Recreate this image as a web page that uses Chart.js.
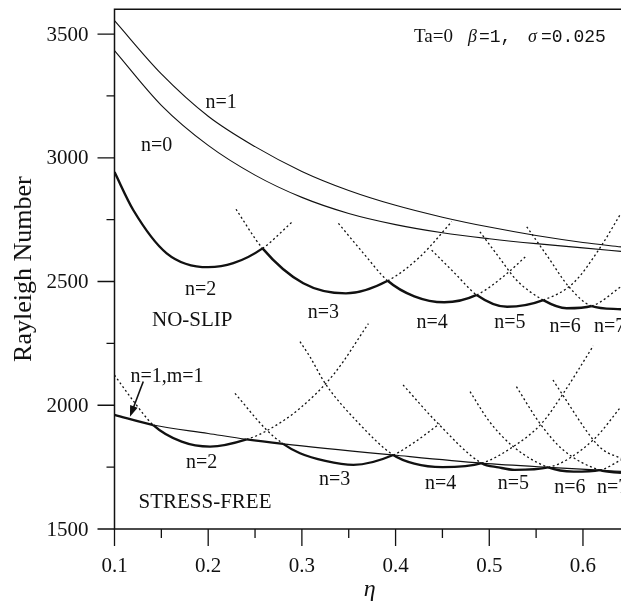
<!DOCTYPE html>
<html>
<head>
<meta charset="utf-8">
<script src="https://cdn.jsdelivr.net/npm/chart.js@4/dist/chart.umd.min.js"></script>
<style>
html, body { margin: 0; padding: 0; background: #fff; }
#myChart { display: block; }
</style>
</head>
<body>
<canvas id="myChart" width="621" height="608"></canvas>
<script>
// tick values and labels
const xTicks = [0.1, 0.2, 0.3, 0.4, 0.5, 0.6];
const xTickLabels = ['0.1', '0.2', '0.3', '0.4', '0.5', '0.6'];
const xMinorTicks = [0.15, 0.25, 0.35, 0.45, 0.55];
const yTicks = [1500, 2000, 2500, 3000, 3500];
const yTickLabels = ['1500', '2000', '2500', '3000', '3500'];
const yMinorTicks = [1750, 2250, 2750, 3250];

// curves, [eta, Rayleigh number]
// no-slip
const nsN0 = [[0.1,3433],[0.15,3212],[0.2,3050],[0.25,2930],[0.3,2840],[0.35,2775],[0.4,2730],[0.45,2697],[0.5,2673],[0.55,2653],[0.6,2636],[0.6406,2622]];
const nsN1 = [[0.1,3554],[0.15,3339],[0.2,3168],[0.25,3045],[0.3,2945],[0.35,2868],[0.4,2808],[0.45,2760],[0.5,2720],[0.55,2686],[0.6,2658],[0.6406,2640]];
const nsN2 = [[0.1,2942],[0.12,2789],[0.1557,2614],[0.2,2558],[0.2268,2574],[0.258,2634],[0.29,2742]];
const nsN3 = [[0.2297,2792],[0.258,2634],[0.3015,2493],[0.347,2452],[0.3916,2503],[0.426,2600],[0.46,2742]];
const nsN4 = [[0.339,2735],[0.3655,2615],[0.3916,2503],[0.42,2440],[0.452,2416],[0.4866,2446],[0.515,2520],[0.54,2605]];
const nsN5 = [[0.4385,2627],[0.4623,2537],[0.4866,2446],[0.519,2398],[0.5576,2425],[0.59,2495],[0.618,2635],[0.6406,2776]];
const nsN6 = [[0.49,2701],[0.51,2600],[0.5293,2505],[0.5576,2425],[0.5826,2392],[0.6093,2401],[0.6406,2479]];
const nsN7 = [[0.54,2721],[0.5625,2600],[0.5843,2482],[0.6093,2401],[0.6406,2388]];
// stress-free
const sfM1 = [[0.1,1961],[0.1414,1920],[0.2,1886],[0.241,1862],[0.28,1844],[0.3975,1799],[0.4919,1766],[0.563,1749],[0.618,1738],[0.6406,1733]];
const sfN2 = [[0.1,2122],[0.12,2018],[0.1414,1920],[0.1717,1853],[0.202,1833],[0.241,1862],[0.2624,1897],[0.298,1988],[0.335,2130],[0.371,2330]];
const sfN3 = [[0.2286,2048],[0.2624,1900],[0.28,1844],[0.298,1806],[0.325,1775],[0.355,1759],[0.3975,1799],[0.42,1850],[0.447,1925]];
const sfN4 = [[0.298,2257],[0.3086,2196],[0.3247,2089],[0.36,1930],[0.3975,1799],[0.42,1764],[0.45,1750],[0.4919,1766],[0.5256,1833],[0.556,1927],[0.579,2048],[0.611,2240]];
const sfN5 = [[0.408,2082],[0.4456,1925],[0.4919,1766],[0.51,1749],[0.527,1739],[0.563,1749],[0.611,1860],[0.6406,1994]];
const sfN6 = [[0.4795,2055],[0.5,1935],[0.5256,1833],[0.563,1749],[0.59,1732],[0.618,1738],[0.6406,1779]];
const sfN7 = [[0.529,2075],[0.554,1927],[0.579,1819],[0.618,1738],[0.6406,1727]];
const sfN8 = [[0.568,2102],[0.5773,2048],[0.611,1860],[0.6217,1819],[0.6406,1786]];

// text labels placed in data coordinates
const curveLabels = [
  ['n=1', 0.2138, 3221], ['n=0', 0.145, 3049], ['n=2', 0.192, 2466],
  ['n=3', 0.323, 2375], ['n=4', 0.439, 2332], ['n=5', 0.522, 2335], ['n=6', 0.581, 2318],
  ['n=1,m=1', 0.156, 2116], ['n=2', 0.193, 1766], ['n=3', 0.335, 1699],
  ['n=4', 0.448, 1683], ['n=5', 0.5257, 1683], ['n=6', 0.586, 1665]
];
const edgeLabels = [['n=7', 0.6117, 2318], ['n=7', 0.615, 1665]];
const regionLabels = [['NO-SLIP', 0.183, 2342], ['STRESS-FREE', 0.1966, 1608]];

const INK = '#111';
const SERIF = '"Liberation Serif", "DejaVu Serif", serif';
const MONO = '"Liberation Mono", "DejaVu Sans Mono", monospace';

// which style a segment gets: thick (solid), thin or dotted
function styleOf(ctx) {
  const ds = ctx.chart.data.datasets[ctx.datasetIndex];
  const i = ctx.p0DataIndex;
  if (ds.thick.some(r => i >= r[0] && i < r[1])) return 'thick';
  return ds.base;
}

function curve(name, pts, thick, base) {
  return {
    label: name,
    data: pts.map(p => ({ x: p[0], y: p[1] })),
    thick: thick,
    base: base,
    borderColor: INK,
    borderWidth: base === 'thin' ? 1.1 : 1.3,
    borderDash: base === 'dotted' ? [2, 2.6] : [],
    pointRadius: 0,
    fill: false,
    cubicInterpolationMode: 'monotone',
    segment: {
      borderWidth: ctx => ({ thick: 2.4, thin: 1.1, dotted: 1.3 })[styleOf(ctx)],
      borderDash: ctx => styleOf(ctx) === 'dotted' ? [2, 2.6] : []
    }
  };
}

const datasets = [
  curve('n=0', nsN0, [], 'thin'),
  curve('n=1', nsN1, [], 'thin'),
  curve('n=2', nsN2, [[0, 5]], 'dotted'),
  curve('n=3', nsN3, [[1, 4]], 'dotted'),
  curve('n=4', nsN4, [[2, 5]], 'dotted'),
  curve('n=5', nsN5, [[2, 4]], 'dotted'),
  curve('n=6', nsN6, [[3, 5]], 'dotted'),
  curve('n=7', nsN7, [[3, 4]], 'dotted'),
  curve('n=1,m=1', sfM1, [[0, 1], [3, 4]], 'thin'),
  curve('sf n=2', sfN2, [[2, 5]], 'dotted'),
  curve('sf n=3', sfN3, [[2, 6]], 'dotted'),
  curve('sf n=4', sfN4, [[4, 7]], 'dotted'),
  curve('sf n=5', sfN5, [[2, 5]], 'dotted'),
  curve('sf n=6', sfN6, [[3, 5]], 'dotted'),
  curve('sf n=7', sfN7, [[3, 4]], 'dotted'),
  curve('sf n=8', sfN8, [], 'dotted')
];

// axes, ticks and text drawn with the chart's own scales
const decor = {
  id: 'decor',
  afterDraw(chart) {
    const c = chart.ctx;
    const xs = chart.scales.x, ys = chart.scales.y;
    const a = chart.chartArea;
    c.save();
    c.strokeStyle = INK;
    c.fillStyle = INK;
    c.lineWidth = 1.5;
    c.beginPath();
    c.moveTo(a.right + 2, a.top); c.lineTo(a.left, a.top);
    c.lineTo(a.left, a.bottom); c.lineTo(a.right + 2, a.bottom);
    c.stroke();

    c.lineWidth = 1.3;
    c.beginPath();
    yTicks.forEach(v => { const y = ys.getPixelForValue(v); c.moveTo(a.left - 17, y); c.lineTo(a.left, y); });
    yMinorTicks.forEach(v => { const y = ys.getPixelForValue(v); c.moveTo(a.left - 8, y); c.lineTo(a.left, y); });
    xTicks.forEach(v => { const x = xs.getPixelForValue(v); c.moveTo(x, a.bottom); c.lineTo(x, a.bottom + 17); });
    xMinorTicks.forEach(v => { const x = xs.getPixelForValue(v); c.moveTo(x, a.bottom); c.lineTo(x, a.bottom + 9); });
    c.stroke();

    c.font = '21px ' + SERIF;
    c.textAlign = 'right';
    c.textBaseline = 'middle';
    yTicks.forEach((v, i) => c.fillText(yTickLabels[i], a.left - 26, ys.getPixelForValue(v) + 1));
    c.textAlign = 'center';
    xTicks.forEach((v, i) => c.fillText(xTickLabels[i], xs.getPixelForValue(v), a.bottom + 37));

    // axis titles
    c.font = 'italic 24px ' + SERIF;
    c.textBaseline = 'alphabetic';
    c.fillText('\u03b7', (a.left + a.right) / 2 + 2, 596);
    c.save();
    c.translate(31, (a.top + a.bottom) / 2);
    c.rotate(-Math.PI / 2);
    c.font = '26px ' + SERIF;
    c.fillText('Rayleigh Number', 0, 0);
    c.restore();

    // curve labels
    c.textBaseline = 'middle';
    c.font = '20px ' + SERIF;
    c.textAlign = 'center';
    curveLabels.forEach(l => c.fillText(l[0], xs.getPixelForValue(l[1]), ys.getPixelForValue(l[2])));
    c.textAlign = 'left';
    edgeLabels.forEach(l => c.fillText(l[0], xs.getPixelForValue(l[1]), ys.getPixelForValue(l[2])));
    c.font = '21px ' + SERIF;
    c.textAlign = 'center';
    regionLabels.forEach(l => c.fillText(l[0], xs.getPixelForValue(l[1]), ys.getPixelForValue(l[2])));

    // parameter line at the top right
    c.textAlign = 'left';
    c.textBaseline = 'alphabetic';
    c.font = '19px ' + SERIF;
    c.fillText('Ta=0', 414, 42);
    c.font = 'italic 18px ' + SERIF;
    c.fillText('\u03b2', 468, 42);
    c.fillText('\u03c3', 528, 42);
    c.font = '18px ' + MONO;
    c.fillText('=1,', 479, 42);
    c.fillText('=0.025', 541, 42);

    // arrow to the n=1,m=1 curve
    const x0 = xs.getPixelForValue(0.1307), y0 = ys.getPixelForValue(2096);
    const x1 = xs.getPixelForValue(0.1165), y1 = ys.getPixelForValue(1954);
    const ang = Math.atan2(y1 - y0, x1 - x0);
    c.lineWidth = 1.6;
    c.beginPath();
    c.moveTo(x0, y0);
    c.lineTo(x1 - 8 * Math.cos(ang), y1 - 8 * Math.sin(ang));
    c.stroke();
    c.beginPath();
    c.moveTo(x1, y1);
    c.lineTo(x1 - 11 * Math.cos(ang) + 4 * Math.sin(ang), y1 - 11 * Math.sin(ang) - 4 * Math.cos(ang));
    c.lineTo(x1 - 11 * Math.cos(ang) - 4 * Math.sin(ang), y1 - 11 * Math.sin(ang) + 4 * Math.cos(ang));
    c.closePath();
    c.fill();
    c.restore();
  }
};

new Chart(document.getElementById('myChart'), {
  type: 'line',
  data: { datasets: datasets },
  options: {
    responsive: false,
    animation: false,
    devicePixelRatio: 1,
    layout: { padding: { left: 114.5, top: 9.3, right: 0, bottom: 79 } },
    plugins: { legend: { display: false }, tooltip: { enabled: false } },
    scales: {
      x: { type: 'linear', min: 0.1, max: 0.6406, display: false },
      y: { type: 'linear', min: 1500, max: 3600, display: false }
    }
  },
  plugins: [decor]
});
</script>
</body>
</html>
